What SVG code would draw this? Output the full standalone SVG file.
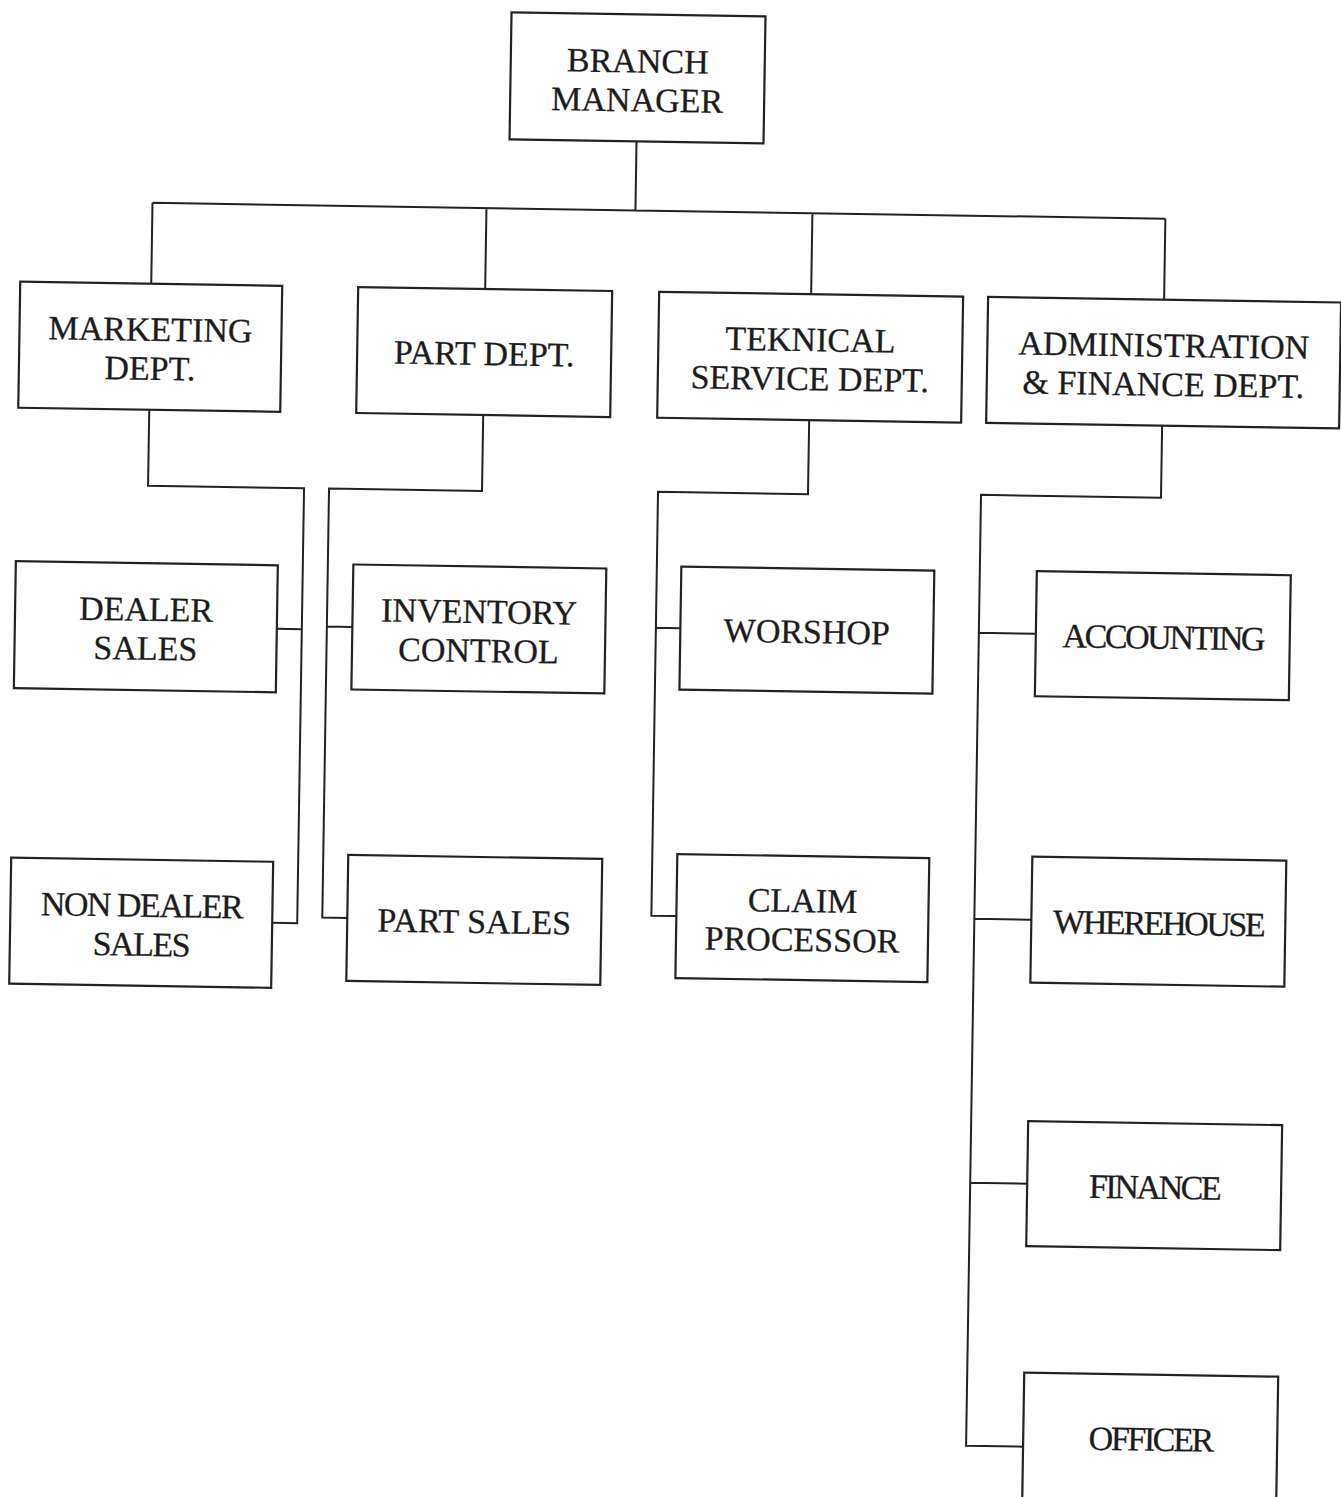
<svg xmlns="http://www.w3.org/2000/svg" width="1341" height="1497" viewBox="0 0 1341 1497">
<style>
.box{fill:#fff;stroke:#222;stroke-width:2.2}
.ln{fill:none;stroke:#222;stroke-width:2}
text{font-family:"Liberation Serif","Times New Roman",serif;font-size:34px;fill:#1c1c1c;stroke:#1c1c1c;stroke-width:0.3;text-anchor:middle}
.tight{letter-spacing:-2.4px}
.semi{letter-spacing:-1.5px}
</style>
<rect x="0" y="0" width="1341" height="1497" fill="#fff"/>
<g transform="rotate(0.9 670 748)">
<g id="connectors">
<path class="ln" d="M627,142 V211 M144,211 H1157 M144,211 V292 M478,211 V292 M804,211 V292 M1157,211 V292"/>
<path class="ln" d="M144,418 V494 H300 V929 H275 M275,635 H300"/>
<path class="ln" d="M478,418 V494 H325 V923 H350 M325,632 H350.5"/>
<path class="ln" d="M804,418 V492 H654 V916 H679 M654,628 H678.5"/>
<path class="ln" d="M1157,418 V490 H977 V1441 H1034 M977,628 H1034 M977,914 H1034 M977,1178 H1034"/>
</g>
<g id="branch-manager"><rect class="box" x="500" y="15" width="254" height="127"/><text x="627" y="73">BRANCH</text><text x="627" y="112">MANAGER</text></g>
<g id="marketing-dept"><rect class="box" x="13" y="292" width="262" height="126"/><text x="144" y="349">MARKETING</text><text x="144" y="388">DEPT.</text></g>
<g id="part-dept"><rect class="box" x="351" y="292" width="254" height="126"/><text x="478" y="368">PART DEPT.</text></g>
<g id="teknical-service-dept"><rect class="box" x="652" y="292" width="304" height="126"/><text x="804" y="349">TEKNICAL</text><text x="804" y="388">SERVICE DEPT.</text></g>
<g id="admin-finance-dept"><rect class="box" x="981" y="292" width="353" height="126"/><text x="1157.5" y="349">ADMINISTRATION</text><text x="1157.5" y="388">&amp; FINANCE DEPT.</text></g>
<g id="dealer-sales"><rect class="box" x="13" y="571.5" width="262" height="127"/><text x="144" y="629">DEALER</text><text x="144" y="668">SALES</text></g>
<g id="inventory-control"><rect class="box" x="350.5" y="569.5" width="253" height="125"/><text x="477" y="626">INVENTORY</text><text x="477" y="665">CONTROL</text></g>
<g id="worshop"><rect class="box" x="678.5" y="566.5" width="253" height="123"/><text x="805" y="641">WORSHOP</text></g>
<g id="accounting"><rect class="box" x="1034" y="565.5" width="254" height="125"/><text class="tight" x="1161" y="641">ACCOUNTING</text></g>
<g id="non-dealer-sales"><rect class="box" x="13" y="868" width="262" height="126"/><text class="semi" x="144" y="925">NON DEALER</text><text class="semi" x="144" y="964">SALES</text></g>
<g id="part-sales"><rect class="box" x="350" y="860" width="254" height="126"/><text x="477" y="936">PART SALES</text></g>
<g id="claim-processor"><rect class="box" x="679" y="854" width="252" height="124"/><text x="805" y="910">CLAIM</text><text x="805" y="949">PROCESSOR</text></g>
<g id="wherehouse"><rect class="box" x="1034" y="851" width="254" height="126"/><text class="tight" x="1161" y="927">WHEREHOUSE</text></g>
<g id="finance"><rect class="box" x="1034" y="1115.5" width="254" height="125"/><text class="tight" x="1161" y="1191">FINANCE</text></g>
<g id="officer"><rect class="box" x="1034" y="1367" width="254" height="140"/><text class="tight" x="1161" y="1443">OFFICER</text></g>
</g>
</svg>
